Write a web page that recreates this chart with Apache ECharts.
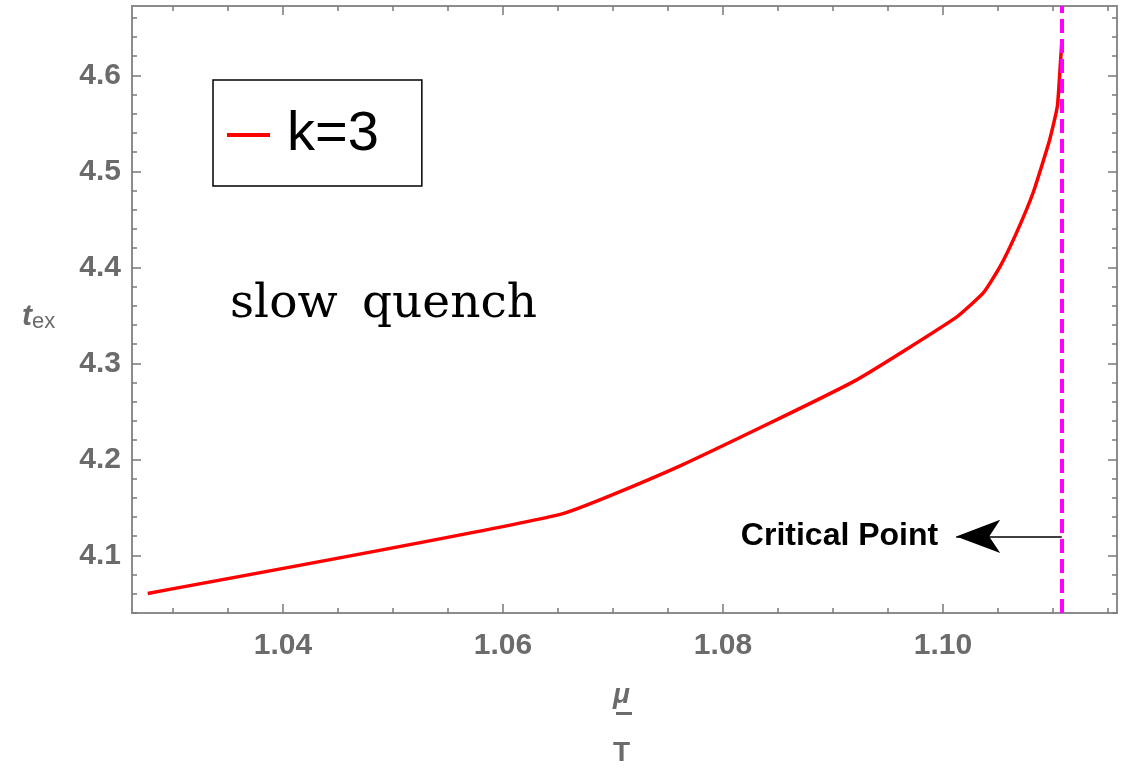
<!DOCTYPE html>
<html>
<head>
<meta charset="utf-8">
<title>t_ex vs mu/T</title>
<script src="https://cdn.jsdelivr.net/npm/echarts@6/dist/echarts.min.js"></script>
<style>
  html, body { margin: 0; padding: 0; background: #fff; }
  #main { width: 1130px; height: 769px; }
</style>
</head>
<body>
<div id="main"></div>
<script>
// mu/T values and t_ex
var muT = [1.0277, 1.0652, 1.0760, 1.0919, 1.1012, 1.1037, 1.1052, 1.1067, 1.1082, 1.1097, 1.1104, 1.1107, 1.1108];
var tex = [4.0604, 4.1427, 4.1927, 4.2813, 4.348, 4.374, 4.401, 4.4365, 4.478, 4.533, 4.568, 4.617, 4.635];
var criticalMu = 1.1108;   // dashed magenta line
var arrowY = 4.1198;       // height of the "Critical Point" arrow
var arrowEnd = 1.1012;
var yMin = 4.04, yMax = 4.6723;

var gray = '#6b6b6b';
var tickColor = '#7a7a7a';
var labelFont = 'Liberation Sans';

function tickAxis(gi, pos, min, max, step, len, labels) {
    return {
        type: 'value', gridIndex: gi, position: pos,
        min: min, max: max, interval: step,
        axisLine: {show: false},
        splitLine: {show: false},
        axisTick: {show: true, inside: true, length: len, lineStyle: {color: tickColor, width: 1.5}},
        axisLabel: labels ? {
            show: true, color: gray, fontSize: 30, fontWeight: 'bold', fontFamily: labelFont,
            margin: 18,
            formatter: function (v) { return v.toFixed(2); }
        } : {show: false}
    };
}
function dummy(gi) {
    return {type: 'value', gridIndex: gi, show: false};
}

var myChart = echarts.init(document.getElementById('main'));

var option = {
    backgroundColor: '#fff',
    animation: false,
    grid: [
        {left: 132, right: 13, top: 6, bottom: 156, show: true, borderColor: '#8c8c8c', borderWidth: 2},
        {left: 173, right: 22, top: 6, bottom: 156},      // x minor ticks
        {left: 283, right: 187, top: 6, bottom: 156},     // x major ticks + labels
        {left: 132, right: 13, top: 17.8, bottom: 156},   // y minor ticks
        {left: 132, right: 13, top: 75.4, bottom: 213.6}  // y major ticks + labels
    ],
    xAxis: [
        {type: 'value', gridIndex: 0, min: 1.02627, max: 1.11582, show: false},
        tickAxis(1, 'bottom', 1.03, 1.115, 0.005, 5, false),
        tickAxis(1, 'top', 1.03, 1.115, 0.005, 5, false),
        tickAxis(2, 'bottom', 1.04, 1.10, 0.02, 9, true),
        tickAxis(2, 'top', 1.04, 1.10, 0.02, 9, false),
        dummy(3),
        dummy(4)
    ],
    yAxis: [
        {type: 'value', gridIndex: 0, min: yMin, max: yMax, show: false},
        dummy(1),
        dummy(2),
        tickAxis(3, 'left', 4.04, 4.66, 0.02, 5, false),
        tickAxis(3, 'right', 4.04, 4.66, 0.02, 5, false),
        (function () {
            var a = tickAxis(4, 'left', 4.1, 4.6, 0.1, 9, true);
            a.axisLabel.formatter = function (v) { return v.toFixed(1); };
            a.axisLabel.margin = 11;
            return a;
        })(),
        tickAxis(4, 'right', 4.1, 4.6, 0.1, 9, false)
    ],
    legend: {
        left: 213, top: 80,
        orient: 'vertical',
        data: [{name: 'k=3', icon: 'rect'}],
        itemWidth: 43, itemHeight: 4,
        padding: [27, 43, 23, 14],
        borderColor: '#000', borderWidth: 1.5,
        textStyle: {fontSize: 56, color: '#000', fontFamily: labelFont, lineHeight: 52, padding: [0, 0, 0, 12]}
    },
    series: [
        {
            name: 'k=3',
            type: 'line',
            xAxisIndex: 0, yAxisIndex: 0,
            data: muT.map(function (m, i) { return [m, tex[i]]; }),
            showSymbol: false,
            smooth: 0.15,
            lineStyle: {color: '#ff0000', width: 3.5},
            itemStyle: {color: '#ff0000'},
            z: 3,
            markLine: {
                silent: true,
                symbol: ['none', 'none'],
                label: {show: false},
                lineStyle: {color: '#ff00ff', width: 4, type: [14, 6]},
                data: [[{coord: [criticalMu, yMin]}, {coord: [criticalMu, yMax]}]],
                z: 4
            }
        },
        {
            name: 'arrow',
            type: 'line',
            xAxisIndex: 0, yAxisIndex: 0,
            data: [],
            markLine: {
                silent: true,
                symbol: ['none', 'arrow'],
                symbolSize: [25, 44],
                lineStyle: {color: '#000', width: 1.5, type: 'solid'},
                label: {
                    show: true, position: 'end', distance: 18,
                    formatter: 'Critical Point',
                    color: '#000', fontSize: 32, fontWeight: 'bold', fontFamily: labelFont
                },
                data: [[{coord: [criticalMu, arrowY]}, {coord: [arrowEnd, arrowY]}]]
            }
        }
    ],
    graphic: [
        {
            type: 'text', left: 230, top: 281,
            style: {text: 'slow', font: '47px "DejaVu Serif"', fill: '#000'}
        },
        {
            type: 'text', left: 362, top: 281,
            style: {text: 'quench', font: '47px "DejaVu Serif"', fill: '#000'}
        },
        {
            type: 'text', left: 22, top: 302,
            style: {
                text: '{t|t}{s|ex}',
                rich: {
                    t: {font: 'italic bold 30px "Liberation Sans"', fill: gray},
                    s: {font: '22px "Liberation Sans"', fill: gray, padding: [10, 0, 0, 0]}
                }
            }
        },
        {
            type: 'text', left: 613, top: 681,
            style: {text: 'μ', font: 'italic bold 28px "Liberation Sans"', fill: gray}
        },
        {
            type: 'rect', shape: {x: 616, y: 712, width: 16, height: 3},
            style: {fill: gray}
        },
        {
            type: 'text', left: 613, top: 739,
            style: {text: 'T', font: 'bold 28px "Liberation Sans"', fill: gray}
        }
    ]
};

myChart.setOption(option);
</script>
</body>
</html>
